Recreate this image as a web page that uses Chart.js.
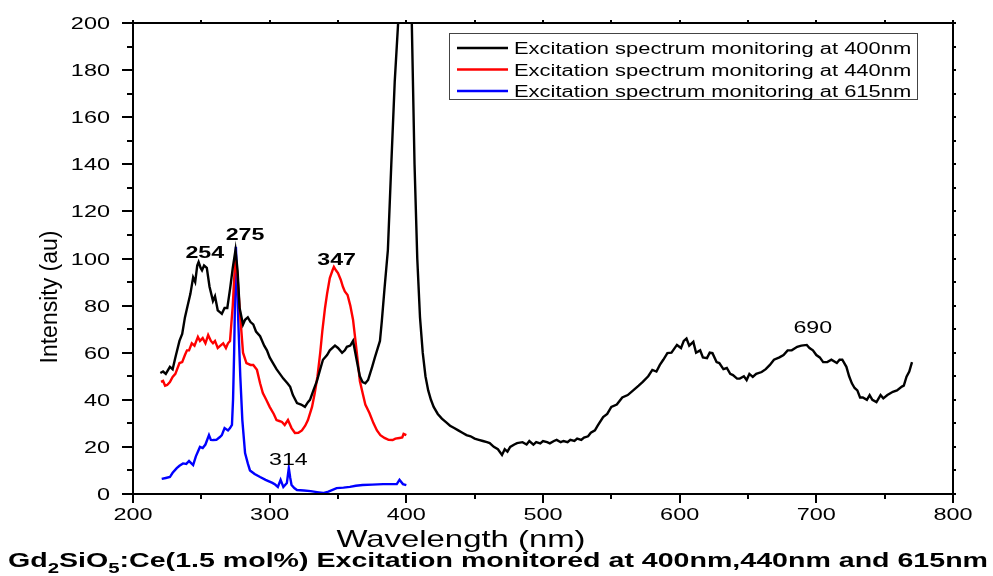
<!DOCTYPE html>
<html>
<head>
<meta charset="utf-8">
<script src="https://cdn.jsdelivr.net/npm/chart.js@4.4.1/dist/chart.umd.min.js"></script>
<style>
html,body{margin:0;padding:0;background:#fff;}
#wrap{width:993px;height:576px;position:relative;}
canvas{display:block;}
</style>
</head>
<body>
<div id="wrap"><canvas id="c" width="993" height="576"></canvas></div>
<script>
// ---- data ----
const seriesLabels = [
  "Excitation spectrum monitoring at 400nm",
  "Excitation spectrum monitoring at 440nm",
  "Excitation spectrum monitoring at 615nm"
];
const xTicks = [200, 300, 400, 500, 600, 700, 800];
const yTicks = [0, 20, 40, 60, 80, 100, 120, 140, 160, 180, 200];

const wl400 = [
  220,222,224,227,229,231,234,236,238,240,
  242,244,245.5,247,248,249.5,250.5,252,254,256,
  258.5,260,262,264,265,267,269,271,273,275,
  276.5,278,280.5,282,284,286,288,290,293,296,
  298,300,302,305,307.5,310,313,315,317,320,
  323,325.8,328,329.5,332,334.6,337,339,342,344,
  347.8,350,353,355,356.5,359,361,362,364.6,366,
  368,370,372,375,377,380.7,382,384,386.5,389,
  391.5,394,397,400,402,404,406,408,410,412,
  414,416,418,420,423,426,429,432,435,438,
  441,444,447,450,453,456,459,461,464,467,
  470,472,474,476,479,481,485,488,490,493,
  495,498,500,503,505,508,510,513,515,518,
  520,523,525,528,530,533,535,538,540,544,
  547,550,554,558,562,566,570,573,577,580,
  583,585.5,588,591,594,598,601,603,605,607,
  610,612,615,617,620,622,624,627,629,632,
  634.5,637,639,642,644,647,649,651,653.5,656,
  660,663,666,669,673,676,679,682,686,689,
  693,695,697.5,700,702.5,705,708,711,715,717,
  719,722,724,726,728,730,732,734,737,739,
  741,744,747,749,752,756,759,762.6,764,766,
  768,770];
const int400 = [
  51.4,52,51,54,53,58,65,68,75,80,
  85,92,90,97,98.5,96,95,97,96,88,
  82,84,78,77,76.5,79,79,87,96,103.6,
  95,79,72,74,75,73,72,69,67,63,
  61,58,56,53,51,49,47,45.5,42,38.6,
  38,37,39,40,44,48,53,57,59,61,
  63,62,60,61,62.5,63,65,62,54,50,
  47.5,47,48.4,54,58,65,73,87,103.6,140,
  175,200,330,400,330,200,140,100,75,60,
  50,44,40,37,34,32,30.5,29,28,27,
  26,25,24.5,23.5,23,22.5,22,21.6,20,19,
  16.6,19,18,20,21,21.6,22,21,22.5,21,
  22,21.5,22.5,22,21.5,22.5,23,22,22.5,22,
  23,22.5,23.5,23,24,24.5,26,27,29,32.7,
  34,37,38,41,42,44,46,47.6,50,52.7,
  52,54.8,57,59.8,60,63.3,62,65,66,63,
  64.6,60,61,58,57.7,60,59.8,56,55.6,53,
  53.5,51,50.5,49,49,50,48.4,51,49.7,51,
  51.8,53,54.8,57,58,59,61,61,62.5,63,
  63.3,62,61,59,58,56,56,57,55.6,57,
  57,54,50,47,45,44,41,41,40,42,
  40,39,42,40.6,42,43.4,44,45.6,46,49.8,
  52,56];

const wl440 = [220.5,222,223.5,225,227,229,231,234,236,238,239.5,241,243,245,247.5,249,251,253,255,257,258.5,260,262,264,266,268,269.5,271,272,273,274,275,276.5,278,280.5,283,286,288,290.7,293,295,297.5,300,303,305,307,309,311,313.4,316,318.5,321,323.6,326,328,331,333,335,337,338.5,340.5,342,344,346,347,348.5,350,352,353.6,355,357,359,361,363,364.6,366,368,370,373,376,378.5,381,384,387,390,392,395,397,398,400];
const int440 = [47.6,48,46,46.3,47.5,49.7,51,55.6,56,59,61,61,64,63,66.7,65,66.2,64,67.5,65,64,65,62,63,64,62,64,65,72.6,80,91,101,92,79,60,55.6,54.8,54.8,52.7,47,42.9,40,37,34,31.4,31,30.6,29.3,31.4,28,25.9,26,27,29,31.4,37,42.9,50,60,69,79,85,91.7,95,96.4,95,93.8,91,88,86,84.5,80,74,64,55.6,48,42.9,38,34.4,30,27,25,23.8,23,22.9,23.5,23.8,24,25.5,25];

const wl615 = [221,224,227,229,232,234,236.6,239,241,244,246,249,251,253,255.6,257,258.5,261,263.6,265,267,269.5,271,272.4,273.2,274,275.3,276.2,277,278.5,280,282,284,285.6,289,293,297,302,304,306,308,310,312.6,314,315,316,318,320,325,330,334.6,339,343,349,354,358.7,363,368,375,383,388,393,395,397.5,400];
const int615 = [6.4,6.8,7.2,9,11,12,13,12.8,14,12.3,16,20,19.5,21,25,23,22.9,23,24.2,25,28,27,28,29.3,40,60,105,90,74,50,31.4,17.4,13,10,8.5,7.2,6,4.7,4,3,6,3,4.7,11,7,3.8,2.5,1.7,1.5,1.2,0.8,0.4,1,2.5,2.7,3,3.5,3.8,4,4.2,4.2,4.2,6,4.2,3.8];

const peakLabels = ["254", "275", "347", "314", "690"];
const peakBold = [true, true, true, false, false];
const peakAt = [[252.5, 100.2], [282, 107.9], [349, 97.2], [313.7, 12.3], [697.4, 68.4]];

const xTitle = "Wavelength (nm)";
const yTitle = "Intensity (au)";

// ---- build ----
function pts(xs, ys){ return xs.map((x,i)=>({x:x, y:ys[i]})); }
const colors = ["#000000", "#ff0000", "#0000ff"];
const datasets = [pts(wl400,int400), pts(wl440,int440), pts(wl615,int615)].map((d,i)=>({
  label: seriesLabels[i], data: d, borderColor: colors[i], backgroundColor: colors[i],
  borderWidth: 2.4, pointRadius: 0, tension: 0, fill: false
}));

const FONT = '"Liberation Sans", Arial, Helvetica, sans-serif';
function stretchText(ctx, s, x, y, font, sx, align){
  ctx.save();
  ctx.font = font;
  ctx.textAlign = align || 'center';
  ctx.textBaseline = 'alphabetic';
  ctx.translate(x, y);
  ctx.scale(sx, 1);
  ctx.fillText(s, 0, 0);
  ctx.restore();
}

const decor = {
  id: 'decor',
  afterDraw(chart){
    const ctx = chart.ctx;
    const xs = chart.scales.x, ys = chart.scales.y;
    const L = xs.getPixelForValue(200), R = xs.getPixelForValue(800);
    const T = ys.getPixelForValue(200), B = ys.getPixelForValue(0);
    ctx.save();
    ctx.fillStyle = '#000';
    ctx.strokeStyle = '#000';
    ctx.lineWidth = 2;
    ctx.strokeRect(L, T, R - L, B - T);
    ctx.beginPath();
    for (let v = 200; v <= 800; v += 50){
      const p = Math.round(xs.getPixelForValue(v));
      const major = v % 100 === 0;
      ctx.moveTo(p, B); ctx.lineTo(p, B + (major ? 9 : 5));
      ctx.moveTo(p, T); ctx.lineTo(p, T - 3);
    }
    for (let v = 0; v <= 200; v += 10){
      const p = Math.round(ys.getPixelForValue(v));
      const major = v % 20 === 0;
      ctx.moveTo(L, p); ctx.lineTo(L - (major ? 11 : 6), p);
      ctx.moveTo(R, p); ctx.lineTo(R + 3, p);
    }
    ctx.stroke();
    const tf = '17px ' + FONT;
    xTicks.forEach(v => stretchText(ctx, String(v), xs.getPixelForValue(v), 520, tf, 1.38, 'center'));
    yTicks.forEach(v => stretchText(ctx, String(v), 110, ys.getPixelForValue(v) + 6, tf, 1.38, 'right'));
    stretchText(ctx, xTitle, 461, 547, '24px ' + FONT, 1.37, 'center');
    ctx.save();
    ctx.translate(57, 297);
    ctx.rotate(-Math.PI / 2);
    ctx.font = '23px ' + FONT;
    ctx.textAlign = 'center';
    ctx.fillText(yTitle, 0, 0);
    ctx.restore();
    peakLabels.forEach((s, i) => {
      const px = xs.getPixelForValue(peakAt[i][0]);
      const py = ys.getPixelForValue(peakAt[i][1]);
      stretchText(ctx, s, px, py, (peakBold[i] ? 'bold ' : '') + '16px ' + FONT, 1.45, 'center');
    });
    // legend
    ctx.lineWidth = 1;
    ctx.strokeStyle = '#444';
    ctx.strokeRect(449.5, 33.5, 468, 66);
    chart.data.datasets.forEach((ds, i) => {
      const yy = 48 + i * 21.5;
      ctx.strokeStyle = ds.borderColor;
      ctx.lineWidth = 2.4;
      ctx.beginPath(); ctx.moveTo(457, yy); ctx.lineTo(508, yy); ctx.stroke();
      ctx.fillStyle = '#000';
      stretchText(ctx, ds.label, 514, yy + 6, '16px ' + FONT, 1.37, 'left');
    });
    // caption
    const parts = [["Gd", false], ["2", true], ["SiO", false], ["5", true], [":Ce(1.5 mol%) Excitation monitored at 400nm,440nm and 615nm", false]];
    const bf = 'bold 21px ' + FONT, sf = 'bold 15px ' + FONT;
    let tot = 0;
    parts.forEach(p => { ctx.font = p[1] ? sf : bf; tot += ctx.measureText(p[0]).width; });
    const sx = 980 / tot;
    let cx = 8;
    ctx.fillStyle = '#000';
    parts.forEach(p => {
      ctx.font = p[1] ? sf : bf;
      const w = ctx.measureText(p[0]).width;
      stretchText(ctx, p[0], cx, p[1] ? 573 : 567, p[1] ? sf : bf, sx, 'left');
      cx += w * sx;
    });
    ctx.restore();
  }
};

new Chart(document.getElementById('c'), {
  type: 'line',
  data: { datasets: datasets },
  options: {
    responsive: false,
    animation: false,
    layout: { padding: { left: 133, top: 23, right: 40, bottom: 82 } },
    plugins: { legend: { display: false }, tooltip: { enabled: false } },
    scales: {
      x: { type: 'linear', min: 200, max: 800, display: false },
      y: { type: 'linear', min: 0, max: 200, display: false }
    }
  },
  plugins: [decor]
});
</script>
</body>
</html>
